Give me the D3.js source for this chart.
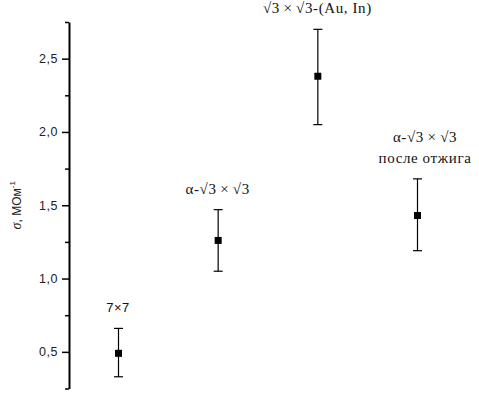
<!DOCTYPE html>
<html>
<head>
<meta charset="utf-8">
<script src="https://cdn.jsdelivr.net/npm/d3@7"></script>
<style>
  html, body { margin: 0; padding: 0; background: #fff; }
  svg { display: block; }
</style>
</head>
<body>
<svg id="chart" width="479" height="393"></svg>
<script>
// data
const categories = ["7×7", "α-√3×√3", "√3×√3-(Au, In)", "α-√3×√3 после отжига"];
const labelLines = [["7×7"], ["α-√3\u2009×\u2009√3"], ["√3\u2009×\u2009√3-(Au, In)"], ["α-√3\u2009×\u2009√3", "после отжига"]];
const sigma = [0.49, 1.26, 2.38, 1.43];
const errLow = [0.33, 1.05, 2.05, 1.19];
const errHigh = [0.66, 1.47, 2.70, 1.68];
const majorTicks = [0.5, 1.0, 1.5, 2.0, 2.5];
const minorTicks = [0.25, 0.75, 1.25, 1.75, 2.25, 2.75];
const tickLabels = ["0,5", "1,0", "1,5", "2,0", "2,5"];

const sans = "'Liberation Sans', Arial, sans-serif";
const serif = "'Liberation Serif', 'Times New Roman', serif";

const svg = d3.select("#chart");

const y = d3.scaleLinear().domain([0.25, 2.75]).range([388.5, 22]);
const x = d3.scalePoint().domain(d3.range(categories.length)).range([118, 417]);

// y axis, major + minor ticks
const axisX = 69;
const major = svg.append("g")
  .attr("transform", `translate(${axisX},0)`)
  .call(d3.axisLeft(y).tickValues(majorTicks).tickSize(7).tickSizeOuter(0)
    .tickPadding(4)
    .tickFormat((d, i) => tickLabels[i]));
major.attr("font-family", sans);
major.select(".domain").attr("stroke-width", 2);
major.selectAll(".tick line").attr("stroke-width", 1.5);
major.selectAll(".tick text")
  .style("font-family", sans)
  .attr("font-size", 12.5)
  .attr("letter-spacing", 0.5)
  .attr("fill", "#222");

const minor = svg.append("g")
  .attr("transform", `translate(${axisX},0)`)
  .call(d3.axisLeft(y).tickValues(minorTicks).tickSize(4).tickSizeOuter(0).tickFormat(""));
minor.select(".domain").remove();
minor.selectAll(".tick line").attr("stroke-width", 1.5);

// axis title
const title = svg.append("text")
  .attr("transform", `translate(21,${(y(0.25) + y(2.75)) / 2}) rotate(-90)`)
  .attr("text-anchor", "middle")
  .style("font-family", sans)
  .attr("font-size", 12)
  .attr("fill", "#222");
title.append("tspan").style("font-family", serif).attr("font-style", "italic").attr("font-size", 14).text("σ");
title.append("tspan").text(",  МОм");
title.append("tspan").attr("font-size", 8).attr("dy", -6).text("-1");

// error bars
const pts = svg.append("g").selectAll("g")
  .data(sigma)
  .join("g");

pts.append("line")
  .attr("x1", (d, i) => x(i) + 0.5)
  .attr("x2", (d, i) => x(i) + 0.5)
  .attr("y1", (d, i) => y(errLow[i]))
  .attr("y2", (d, i) => y(errHigh[i]))
  .attr("stroke", "#000")
  .attr("stroke-width", 1.2);

pts.append("line")
  .attr("x1", (d, i) => x(i) - 4)
  .attr("x2", (d, i) => x(i) + 5)
  .attr("y1", (d, i) => y(errLow[i]))
  .attr("y2", (d, i) => y(errLow[i]))
  .attr("stroke", "#000")
  .attr("stroke-width", 1.2);

pts.append("line")
  .attr("x1", (d, i) => x(i) - 4)
  .attr("x2", (d, i) => x(i) + 5)
  .attr("y1", (d, i) => y(errHigh[i]))
  .attr("y2", (d, i) => y(errHigh[i]))
  .attr("stroke", "#000")
  .attr("stroke-width", 1.2);

pts.append("rect")
  .attr("x", (d, i) => x(i) - 3)
  .attr("y", d => y(d) - 3.5)
  .attr("width", 7)
  .attr("height", 7)
  .attr("fill", "#000");

// point labels
pts.each(function(d, i) {
  const lines = labelLines[i];
  const g = d3.select(this);
  const base = y(errHigh[i]) - 16;
  lines.forEach((t, k) => {
    g.append("text")
      .attr("x", x(i) + (lines.length > 1 ? 8 : 0))
      .attr("y", base - (lines.length - 1 - k) * 21)
      .attr("text-anchor", "middle")
      .style("font-family", i === 0 ? sans : serif)
      .attr("font-size", i === 0 ? 13 : 15)
      .attr("letter-spacing", i === 0 ? 0.5 : 0.6)
      .attr("fill", "#111")
      .text(t);
  });
});
</script>
</body>
</html>
